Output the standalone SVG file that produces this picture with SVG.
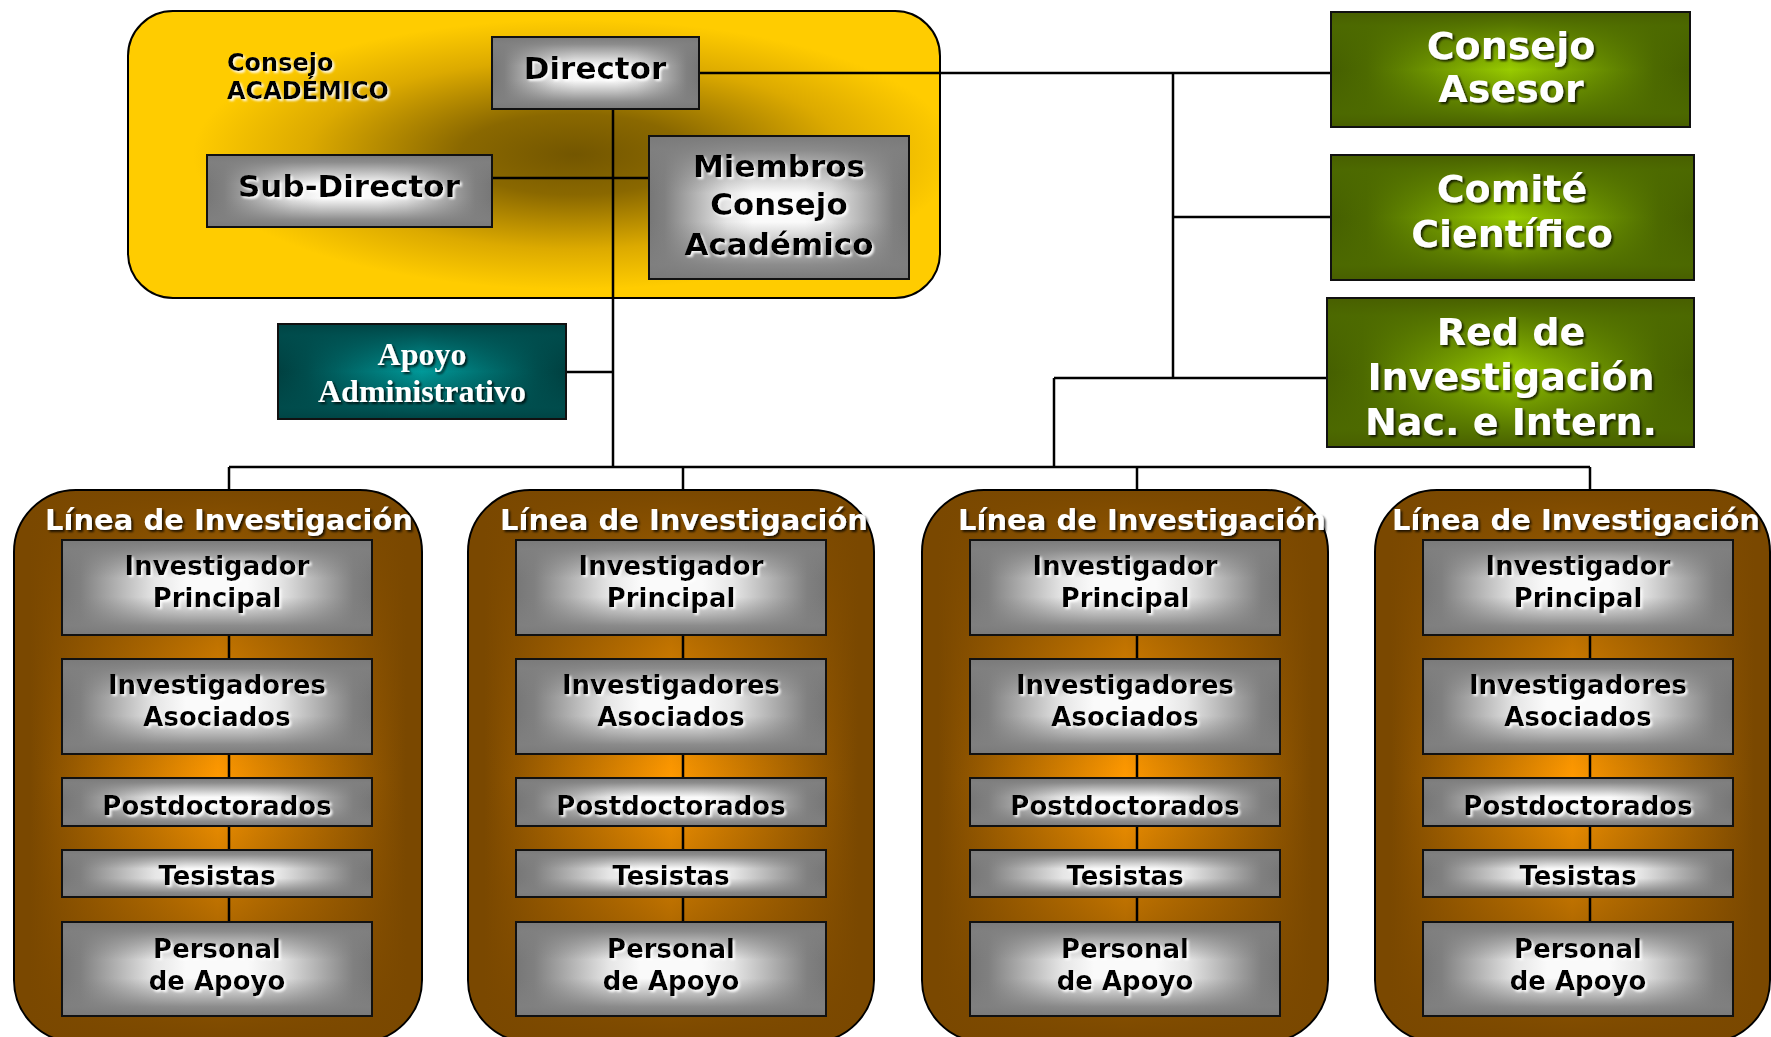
<svg xmlns="http://www.w3.org/2000/svg" width="1771" height="1037" viewBox="0 0 1771 1037">
<defs>
  <style>
    .t { font-family: "DejaVu Sans", Verdana, sans-serif; font-weight: bold; text-anchor: middle; }
    .dk { fill: #000; filter: url(#shL); }
    .wt { fill: #fff; filter: url(#shD); }
    .serif { font-family: "Liberation Serif", "Times New Roman", serif; font-weight: bold; text-anchor: middle; }
    .gH { fill: url(#grayH); }
    .gV { fill: url(#grayV); stroke: #111; stroke-width: 2; }
    .grH { fill: url(#greenH); }
    .grV { fill: url(#greenV); stroke: #111; stroke-width: 2; }
    .bH { fill: url(#brownH); }
    .bV { fill: url(#brownV); stroke: #000; stroke-width: 2; }
    #connectors line { stroke: #000; stroke-width: 2.5; }
    .gs { font-size: 26px; }
    .ts { font-size: 29px; }
    .top { font-size: 31px; }
    .grn { font-size: 38px; }
  </style>
  <filter id="shL" x="-10%" y="-20%" width="120%" height="150%">
    <feDropShadow dx="2" dy="2" stdDeviation="1" flood-color="#ffffff" flood-opacity="0.9"/>
  </filter>
  <filter id="shD" x="-10%" y="-20%" width="120%" height="150%">
    <feDropShadow dx="2" dy="2" stdDeviation="1" flood-color="#000000" flood-opacity="0.75"/>
  </filter>
  <linearGradient id="grayH" x1="0" y1="0" x2="1" y2="0">
    <stop offset="0" stop-color="#777777"/>
    <stop offset="0.06" stop-color="#808080"/>
    <stop offset="0.3" stop-color="#e6e6e6"/>
    <stop offset="0.4" stop-color="#fafafa"/>
    <stop offset="0.6" stop-color="#fafafa"/>
    <stop offset="0.7" stop-color="#e6e6e6"/>
    <stop offset="0.94" stop-color="#808080"/>
    <stop offset="1" stop-color="#777777"/>
  </linearGradient>
  <linearGradient id="grayV" x1="0" y1="0" x2="0" y2="1">
    <stop offset="0" stop-color="#7a7a7a" stop-opacity="1"/>
    <stop offset="0.1" stop-color="#808080" stop-opacity="0.9"/>
    <stop offset="0.4" stop-color="#808080" stop-opacity="0"/>
    <stop offset="0.6" stop-color="#808080" stop-opacity="0"/>
    <stop offset="0.9" stop-color="#808080" stop-opacity="0.9"/>
    <stop offset="1" stop-color="#7a7a7a" stop-opacity="1"/>
  </linearGradient>
  <linearGradient id="greenH" x1="0" y1="0" x2="1" y2="0">
    <stop offset="0" stop-color="#455f00"/>
    <stop offset="0.1" stop-color="#4d6a00"/>
    <stop offset="0.5" stop-color="#99cc00"/>
    <stop offset="0.9" stop-color="#4d6a00"/>
    <stop offset="1" stop-color="#455f00"/>
  </linearGradient>
  <linearGradient id="greenV" x1="0" y1="0" x2="0" y2="1">
    <stop offset="0" stop-color="#485f00" stop-opacity="1"/>
    <stop offset="0.12" stop-color="#4d6a00" stop-opacity="0.85"/>
    <stop offset="0.5" stop-color="#4d6a00" stop-opacity="0"/>
    <stop offset="0.88" stop-color="#4d6a00" stop-opacity="0.85"/>
    <stop offset="1" stop-color="#485f00" stop-opacity="1"/>
  </linearGradient>
  <linearGradient id="tealH" x1="0" y1="0" x2="1" y2="0">
    <stop offset="0" stop-color="#004040"/>
    <stop offset="0.1" stop-color="#004d4d"/>
    <stop offset="0.5" stop-color="#009999"/>
    <stop offset="0.9" stop-color="#004d4d"/>
    <stop offset="1" stop-color="#004040"/>
  </linearGradient>
  <linearGradient id="tealV" x1="0" y1="0" x2="0" y2="1">
    <stop offset="0" stop-color="#004444" stop-opacity="1"/>
    <stop offset="0.12" stop-color="#004d4d" stop-opacity="0.85"/>
    <stop offset="0.5" stop-color="#004d4d" stop-opacity="0"/>
    <stop offset="0.88" stop-color="#004d4d" stop-opacity="0.85"/>
    <stop offset="1" stop-color="#004444" stop-opacity="1"/>
  </linearGradient>
  <linearGradient id="brownH" x1="0" y1="0" x2="1" y2="0">
    <stop offset="0" stop-color="#7a4800"/>
    <stop offset="0.04" stop-color="#7a4800"/>
    <stop offset="0.5" stop-color="#ff9900"/>
    <stop offset="0.96" stop-color="#7a4800"/>
    <stop offset="1" stop-color="#7a4800"/>
  </linearGradient>
  <linearGradient id="brownV" x1="0" y1="0" x2="0" y2="1">
    <stop offset="0" stop-color="#7a4800" stop-opacity="1"/>
    <stop offset="0.06" stop-color="#7a4800" stop-opacity="0.9"/>
    <stop offset="0.52" stop-color="#7a4800" stop-opacity="0"/>
    <stop offset="0.93" stop-color="#7a4800" stop-opacity="0.9"/>
    <stop offset="1" stop-color="#7a4800" stop-opacity="1"/>
  </linearGradient>
  <radialGradient id="yellowR" cx="0.55" cy="0.5" r="0.47">
    <stop offset="0" stop-color="#735600"/>
    <stop offset="0.3" stop-color="#8a6800"/>
    <stop offset="0.7" stop-color="#dcaa00"/>
    <stop offset="1" stop-color="#ffcc00"/>
  </radialGradient>
</defs>

<rect x="0" y="0" width="1771" height="1037" fill="#ffffff"/>

<!-- Brown research-line columns (backgrounds) -->
<g id="linea-1">
  <rect class="bH" x="14" y="490" width="408" height="552" rx="62"/>
  <rect class="bV" x="14" y="490" width="408" height="552" rx="62"/>
</g>
<g id="linea-2">
  <rect class="bH" x="468" y="490" width="406" height="552" rx="62"/>
  <rect class="bV" x="468" y="490" width="406" height="552" rx="62"/>
</g>
<g id="linea-3">
  <rect class="bH" x="922" y="490" width="406" height="552" rx="62"/>
  <rect class="bV" x="922" y="490" width="406" height="552" rx="62"/>
</g>
<g id="linea-4">
  <rect class="bH" x="1375" y="490" width="395" height="552" rx="62"/>
  <rect class="bV" x="1375" y="490" width="395" height="552" rx="62"/>
</g>

<!-- Consejo Académico container -->
<g id="consejo-academico">
  <rect x="128" y="11" width="812" height="287" rx="45" fill="url(#yellowR)" stroke="#000" stroke-width="2"/>
  <text class="t dk" x="227" y="71" style="font-size:24px;text-anchor:start">Consejo</text>
  <text class="t dk" x="227" y="99" style="font-size:24px;text-anchor:start">ACADÉMICO</text>
</g>

<!-- Connectors -->
<g id="connectors">
  <line x1="699" y1="73" x2="1331" y2="73"/>
  <line x1="1173" y1="73" x2="1173" y2="378"/>
  <line x1="1173" y1="217" x2="1331" y2="217"/>
  <line x1="1054" y1="378" x2="1327" y2="378"/>
  <line x1="1054" y1="378" x2="1054" y2="467"/>
  <line x1="613" y1="109" x2="613" y2="467"/>
  <line x1="492" y1="178" x2="649" y2="178"/>
  <line x1="566" y1="372" x2="613" y2="372"/>
  <line x1="229" y1="467" x2="1590" y2="467"/>
  <line x1="229" y1="467" x2="229" y2="490"/>
  <line x1="683" y1="467" x2="683" y2="490"/>
  <line x1="1137" y1="467" x2="1137" y2="490"/>
  <line x1="1590" y1="467" x2="1590" y2="490"/>
  <line x1="229" y1="635" x2="229" y2="659"/>
  <line x1="229" y1="754" x2="229" y2="778"/>
  <line x1="229" y1="826" x2="229" y2="850"/>
  <line x1="229" y1="897" x2="229" y2="922"/>
  <line x1="683" y1="635" x2="683" y2="659"/>
  <line x1="683" y1="754" x2="683" y2="778"/>
  <line x1="683" y1="826" x2="683" y2="850"/>
  <line x1="683" y1="897" x2="683" y2="922"/>
  <line x1="1137" y1="635" x2="1137" y2="659"/>
  <line x1="1137" y1="754" x2="1137" y2="778"/>
  <line x1="1137" y1="826" x2="1137" y2="850"/>
  <line x1="1137" y1="897" x2="1137" y2="922"/>
  <line x1="1590" y1="635" x2="1590" y2="659"/>
  <line x1="1590" y1="754" x2="1590" y2="778"/>
  <line x1="1590" y1="826" x2="1590" y2="850"/>
  <line x1="1590" y1="897" x2="1590" y2="922"/>
</g>

<!-- Top nodes -->
<g id="director">
  <rect class="gH" x="492" y="37" width="207" height="72"/>
  <rect class="gV" x="492" y="37" width="207" height="72"/>
  <text class="t dk top" x="595" y="79">Director</text>
</g>
<g id="sub-director">
  <rect class="gH" x="207" y="155" width="285" height="72"/>
  <rect class="gV" x="207" y="155" width="285" height="72"/>
  <text class="t dk top" x="349" y="197">Sub-Director</text>
</g>
<g id="miembros">
  <rect class="gH" x="649" y="136" width="260" height="143"/>
  <rect class="gV" x="649" y="136" width="260" height="143"/>
  <text class="t dk top" x="779" y="177">Miembros</text>
  <text class="t dk top" x="779" y="215">Consejo</text>
  <text class="t dk top" x="779" y="255">Académico</text>
</g>
<g id="apoyo-administrativo">
  <rect x="278" y="324" width="288" height="95" fill="url(#tealH)"/>
  <rect x="278" y="324" width="288" height="95" fill="url(#tealV)" stroke="#111" stroke-width="2"/>
  <text class="serif wt" x="422" y="365" style="font-size:32px">Apoyo</text>
  <text class="serif wt" x="422" y="402" style="font-size:32px">Administrativo</text>
</g>
<g id="consejo-asesor">
  <rect class="grH" x="1331" y="12" width="359" height="115"/>
  <rect class="grV" x="1331" y="12" width="359" height="115"/>
  <text class="t wt grn" x="1511" y="59">Consejo</text>
  <text class="t wt grn" x="1511" y="102">Asesor</text>
</g>
<g id="comite-cientifico">
  <rect class="grH" x="1331" y="155" width="363" height="125"/>
  <rect class="grV" x="1331" y="155" width="363" height="125"/>
  <text class="t wt grn" x="1512" y="202">Comité</text>
  <text class="t wt grn" x="1512" y="247">Científico</text>
</g>
<g id="red-investigacion">
  <rect class="grH" x="1327" y="298" width="367" height="149"/>
  <rect class="grV" x="1327" y="298" width="367" height="149"/>
  <text class="t wt grn" x="1511" y="345">Red de</text>
  <text class="t wt grn" x="1511" y="390">Investigación</text>
  <text class="t wt grn" x="1511" y="435">Nac. e Intern.</text>
</g>

<!-- Column 1 -->
<g id="linea-1-contenido">
  <text class="t wt ts" x="229" y="530">Línea de Investigación</text>
  <g id="l1-investigador-principal">
    <rect class="gH" x="62" y="540" width="310" height="95"/><rect class="gV" x="62" y="540" width="310" height="95"/>
    <text class="t dk gs" x="217" y="575">Investigador</text><text class="t dk gs" x="217" y="607">Principal</text>
  </g>
  <g id="l1-investigadores-asociados">
    <rect class="gH" x="62" y="659" width="310" height="95"/><rect class="gV" x="62" y="659" width="310" height="95"/>
    <text class="t dk gs" x="217" y="694">Investigadores</text><text class="t dk gs" x="217" y="726">Asociados</text>
  </g>
  <g id="l1-postdoctorados">
    <rect class="gH" x="62" y="778" width="310" height="48"/><rect class="gV" x="62" y="778" width="310" height="48"/>
    <text class="t dk gs" x="217" y="815">Postdoctorados</text>
  </g>
  <g id="l1-tesistas">
    <rect class="gH" x="62" y="850" width="310" height="47"/><rect class="gV" x="62" y="850" width="310" height="47"/>
    <text class="t dk gs" x="217" y="885">Tesistas</text>
  </g>
  <g id="l1-personal-apoyo">
    <rect class="gH" x="62" y="922" width="310" height="94"/><rect class="gV" x="62" y="922" width="310" height="94"/>
    <text class="t dk gs" x="217" y="958">Personal</text><text class="t dk gs" x="217" y="990">de Apoyo</text>
  </g>
</g>

<!-- Column 2 -->
<g id="linea-2-contenido">
  <text class="t wt ts" x="684" y="530">Línea de Investigación</text>
  <g id="l2-investigador-principal">
    <rect class="gH" x="516" y="540" width="310" height="95"/><rect class="gV" x="516" y="540" width="310" height="95"/>
    <text class="t dk gs" x="671" y="575">Investigador</text><text class="t dk gs" x="671" y="607">Principal</text>
  </g>
  <g id="l2-investigadores-asociados">
    <rect class="gH" x="516" y="659" width="310" height="95"/><rect class="gV" x="516" y="659" width="310" height="95"/>
    <text class="t dk gs" x="671" y="694">Investigadores</text><text class="t dk gs" x="671" y="726">Asociados</text>
  </g>
  <g id="l2-postdoctorados">
    <rect class="gH" x="516" y="778" width="310" height="48"/><rect class="gV" x="516" y="778" width="310" height="48"/>
    <text class="t dk gs" x="671" y="815">Postdoctorados</text>
  </g>
  <g id="l2-tesistas">
    <rect class="gH" x="516" y="850" width="310" height="47"/><rect class="gV" x="516" y="850" width="310" height="47"/>
    <text class="t dk gs" x="671" y="885">Tesistas</text>
  </g>
  <g id="l2-personal-apoyo">
    <rect class="gH" x="516" y="922" width="310" height="94"/><rect class="gV" x="516" y="922" width="310" height="94"/>
    <text class="t dk gs" x="671" y="958">Personal</text><text class="t dk gs" x="671" y="990">de Apoyo</text>
  </g>
</g>

<!-- Column 3 -->
<g id="linea-3-contenido">
  <text class="t wt ts" x="1142" y="530">Línea de Investigación</text>
  <g id="l3-investigador-principal">
    <rect class="gH" x="970" y="540" width="310" height="95"/><rect class="gV" x="970" y="540" width="310" height="95"/>
    <text class="t dk gs" x="1125" y="575">Investigador</text><text class="t dk gs" x="1125" y="607">Principal</text>
  </g>
  <g id="l3-investigadores-asociados">
    <rect class="gH" x="970" y="659" width="310" height="95"/><rect class="gV" x="970" y="659" width="310" height="95"/>
    <text class="t dk gs" x="1125" y="694">Investigadores</text><text class="t dk gs" x="1125" y="726">Asociados</text>
  </g>
  <g id="l3-postdoctorados">
    <rect class="gH" x="970" y="778" width="310" height="48"/><rect class="gV" x="970" y="778" width="310" height="48"/>
    <text class="t dk gs" x="1125" y="815">Postdoctorados</text>
  </g>
  <g id="l3-tesistas">
    <rect class="gH" x="970" y="850" width="310" height="47"/><rect class="gV" x="970" y="850" width="310" height="47"/>
    <text class="t dk gs" x="1125" y="885">Tesistas</text>
  </g>
  <g id="l3-personal-apoyo">
    <rect class="gH" x="970" y="922" width="310" height="94"/><rect class="gV" x="970" y="922" width="310" height="94"/>
    <text class="t dk gs" x="1125" y="958">Personal</text><text class="t dk gs" x="1125" y="990">de Apoyo</text>
  </g>
</g>

<!-- Column 4 -->
<g id="linea-4-contenido">
  <text class="t wt ts" x="1576" y="530">Línea de Investigación</text>
  <g id="l4-investigador-principal">
    <rect class="gH" x="1423" y="540" width="310" height="95"/><rect class="gV" x="1423" y="540" width="310" height="95"/>
    <text class="t dk gs" x="1578" y="575">Investigador</text><text class="t dk gs" x="1578" y="607">Principal</text>
  </g>
  <g id="l4-investigadores-asociados">
    <rect class="gH" x="1423" y="659" width="310" height="95"/><rect class="gV" x="1423" y="659" width="310" height="95"/>
    <text class="t dk gs" x="1578" y="694">Investigadores</text><text class="t dk gs" x="1578" y="726">Asociados</text>
  </g>
  <g id="l4-postdoctorados">
    <rect class="gH" x="1423" y="778" width="310" height="48"/><rect class="gV" x="1423" y="778" width="310" height="48"/>
    <text class="t dk gs" x="1578" y="815">Postdoctorados</text>
  </g>
  <g id="l4-tesistas">
    <rect class="gH" x="1423" y="850" width="310" height="47"/><rect class="gV" x="1423" y="850" width="310" height="47"/>
    <text class="t dk gs" x="1578" y="885">Tesistas</text>
  </g>
  <g id="l4-personal-apoyo">
    <rect class="gH" x="1423" y="922" width="310" height="94"/><rect class="gV" x="1423" y="922" width="310" height="94"/>
    <text class="t dk gs" x="1578" y="958">Personal</text><text class="t dk gs" x="1578" y="990">de Apoyo</text>
  </g>
</g>
</svg>
